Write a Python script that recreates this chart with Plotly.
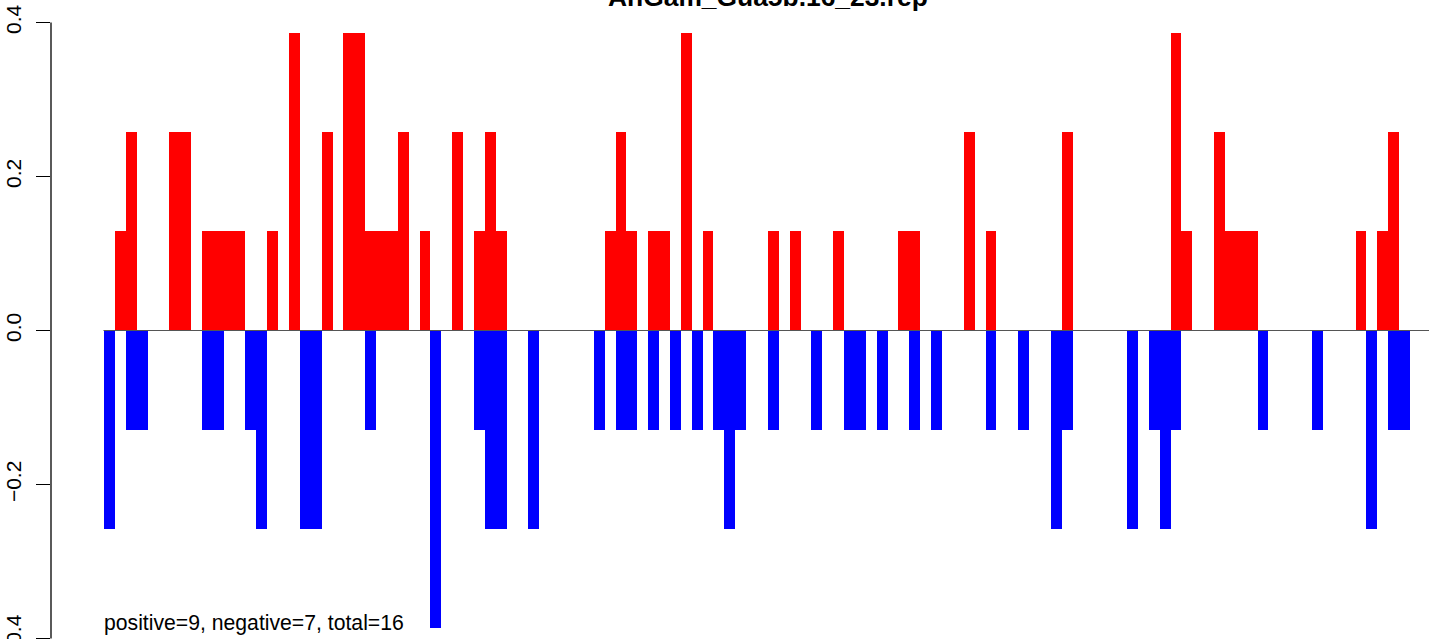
import plotly.graph_objects as go

title_text = "AnGam_Gua5b.16_23.rep"
note_text = "positive=9, negative=7, total=16"

# bar values per position (index 0..119)
positive = [
    0, 0.129, 0.258, 0, 0, 0, 0.258, 0.258, 0, 0.129,
    0.129, 0.129, 0.129, 0, 0, 0.129, 0, 0.387, 0, 0,
    0.258, 0, 0.387, 0.387, 0.129, 0.129, 0.129, 0.258, 0, 0.129,
    0, 0, 0.258, 0, 0.129, 0.258, 0.129, 0, 0, 0,
    0, 0, 0, 0, 0, 0, 0.129, 0.258, 0.129, 0,
    0.129, 0.129, 0, 0.387, 0, 0.129, 0, 0, 0, 0,
    0, 0.129, 0, 0.129, 0, 0, 0, 0.129, 0, 0,
    0, 0, 0, 0.129, 0.129, 0, 0, 0, 0, 0.258,
    0, 0.129, 0, 0, 0, 0, 0, 0, 0.258, 0,
    0, 0, 0, 0, 0, 0, 0, 0, 0.387, 0.129,
    0, 0, 0.258, 0.129, 0.129, 0.129, 0, 0, 0, 0,
    0, 0, 0, 0, 0, 0.129, 0, 0.129, 0.258, 0,
]
negative = [
    -0.258, 0, -0.129, -0.129, 0, 0, 0, 0, 0, -0.129,
    -0.129, 0, 0, -0.129, -0.258, 0, 0, 0, -0.258, -0.258,
    0, 0, 0, 0, -0.129, 0, 0, 0, 0, 0,
    -0.387, 0, 0, 0, -0.129, -0.258, -0.258, 0, 0, -0.258,
    0, 0, 0, 0, 0, -0.129, 0, -0.129, -0.129, 0,
    -0.129, 0, -0.129, 0, -0.129, 0, -0.129, -0.258, -0.129, 0,
    0, -0.129, 0, 0, 0, -0.129, 0, 0, -0.129, -0.129,
    0, -0.129, 0, 0, -0.129, 0, -0.129, 0, 0, 0,
    0, -0.129, 0, 0, -0.129, 0, 0, -0.258, -0.129, 0,
    0, 0, 0, 0, -0.258, 0, -0.129, -0.258, -0.129, 0,
    0, 0, 0, 0, 0, 0, -0.129, 0, 0, 0,
    0, -0.129, 0, 0, 0, 0, -0.258, 0, -0.129, -0.129,
]
y_ticks = [-0.4, -0.2, 0.0, 0.2, 0.4]
y_tick_labels = ["\u22120.4", "\u22120.2", "0.0", "0.2", "0.4"]

n = len(positive)
xs = [i + 0.5 for i in range(n)]
pos_y = [v if v != 0 else None for v in positive]
neg_y = [v if v != 0 else None for v in negative]

W, H = 1429, 639
ML = 51
px_per_unit_x = 10.883
bar_left_px = 104
x0 = -(bar_left_px - ML) / px_per_unit_x
x1 = (W - bar_left_px) / px_per_unit_x
zero_px = 330.5
px_per_unit_y = 770.0
y_top = zero_px / px_per_unit_y
y_bot = -(H - zero_px) / px_per_unit_y

FONT = "Liberation Sans, Arial, Helvetica, sans-serif"

fig = go.Figure()
fig.add_trace(go.Bar(x=xs, y=pos_y, width=1.0, marker=dict(color="#FF0000", line=dict(width=0)),
                     showlegend=False, hoverinfo="y"))
fig.add_trace(go.Bar(x=xs, y=neg_y, width=1.0, marker=dict(color="#0000FF", line=dict(width=0)),
                     showlegend=False, hoverinfo="y"))

# zero line
fig.add_shape(type="line", xref="x", yref="y", x0=-0.05, x1=x1 + 5, y0=0, y1=0,
              line=dict(color="#555555", width=1.2), layer="above")
# y axis line (R style: from lowest to highest tick)
fig.add_shape(type="line", xref="paper", yref="y", x0=0, x1=0, y0=-0.4, y1=0.4,
              line=dict(color="black", width=1.3), layer="above")

PW = W - ML
fig.add_annotation(text="<b>" + title_text + "</b>", xref="paper", yref="paper",
                   x=(767.5 - ML) / PW, y=1 + 3 / H, xanchor="center", yanchor="middle",
                   showarrow=False, font=dict(family=FONT, size=26.4, color="black"))
fig.add_annotation(text=note_text, xref="paper", yref="paper",
                   x=(102 - ML) / PW, y=(H - 623) / H, xanchor="left", yanchor="middle",
                   showarrow=False, font=dict(family=FONT, size=21.2, color="black"))

fig.update_layout(
    width=W, height=H,
    margin=dict(l=ML, r=0, t=0, b=0, autoexpand=False),
    plot_bgcolor="white", paper_bgcolor="white",
    barmode="overlay", bargap=0,
    xaxis=dict(range=[x0, x1], visible=False, fixedrange=True, automargin=False),
    yaxis=dict(range=[y_bot, y_top], tickvals=y_ticks, ticktext=y_tick_labels,
               tickangle=-90, ticks="outside", ticklen=14, tickwidth=1.3, tickcolor="black",
               ticklabelstandoff=7, ticklabeloverflow="allow", automargin=False,
               showgrid=False, zeroline=False, showline=False,
               tickfont=dict(family=FONT, size=21, color="black"), fixedrange=True),
)

fig.write_html("out.html", config={"displayModeBar": False},
               post_script="document.body.style.margin='0';document.body.style.overflow='hidden';")
